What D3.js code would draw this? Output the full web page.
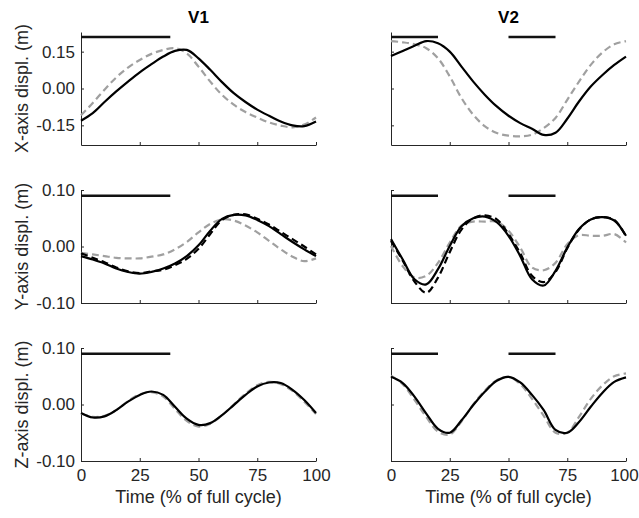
<!DOCTYPE html>
<html>
<head>
<meta charset="utf-8">
<script src="https://cdn.jsdelivr.net/npm/d3@7"></script>
<style>
body { margin: 0; background: #fff; }
svg text { font-family: "Liberation Sans", Arial, sans-serif; fill: #262626; }
</style>
</head>
<body>
<script>
var width = 639, height = 518;

// time axis, % of full cycle
var timePct = [0, 5, 10, 15, 20, 25, 30, 35, 40, 45, 50, 55, 60, 65, 70, 75, 80, 85, 90, 95, 100];
var xTicks = [0, 25, 50, 75, 100];
var colTitles = ["V1", "V2"];
var rowLabels = ["X-axis displ. (m)", "Y-axis displ. (m)", "Z-axis displ. (m)"];

// y ranges and ticks for each row
var rowDomains = [[-0.23, 0.23], [-0.1, 0.1], [-0.1, 0.1]];
var rowTicks = [[-0.15, 0, 0.15], [-0.1, 0, 0.1], [-0.1, 0, 0.1]];
var barLevels = [0.21, 0.09, 0.09];

// horizontal phase bars (start, end in %)
var barsV1 = [[0, 38]];
var barsV2 = [[0, 20], [50, 70]];

// X-axis displacement
var xV1Solid = [-0.131, -0.100, -0.055, -0.012, 0.028, 0.066, 0.099, 0.130, 0.153, 0.157, 0.123, 0.076, 0.026, -0.019, -0.055, -0.086, -0.111, -0.134, -0.150, -0.153, -0.134];
var xV1Gray = [-0.109, -0.059, -0.005, 0.045, 0.085, 0.116, 0.141, 0.157, 0.164, 0.143, 0.089, 0.028, -0.026, -0.066, -0.096, -0.118, -0.138, -0.151, -0.158, -0.147, -0.118];
var xV2Solid = [0.132, 0.153, 0.174, 0.193, 0.184, 0.150, 0.089, 0.028, -0.026, -0.073, -0.111, -0.141, -0.164, -0.189, -0.180, -0.123, -0.053, 0.008, 0.055, 0.096, 0.130];
var xV2Gray = [0.193, 0.188, 0.180, 0.164, 0.123, 0.049, -0.039, -0.107, -0.154, -0.181, -0.192, -0.195, -0.188, -0.161, -0.120, -0.046, 0.028, 0.096, 0.147, 0.180, 0.193];

// Y-axis displacement
var yV1Solid = [-0.017, -0.023, -0.030, -0.039, -0.045, -0.048, -0.045, -0.039, -0.030, -0.017, 0.002, 0.028, 0.049, 0.056, 0.055, 0.047, 0.036, 0.022, 0.008, -0.005, -0.017];
var yV1Dash = [-0.012, -0.020, -0.028, -0.037, -0.044, -0.047, -0.044, -0.041, -0.033, -0.022, -0.004, 0.022, 0.047, 0.056, 0.057, 0.049, 0.039, 0.026, 0.013, 0.000, -0.014];
var yV1Gray = [-0.011, -0.014, -0.017, -0.020, -0.021, -0.021, -0.018, -0.014, -0.005, 0.008, 0.025, 0.040, 0.048, 0.046, 0.037, 0.025, 0.010, -0.005, -0.018, -0.026, -0.021];
var yV2Solid = [0.013, -0.023, -0.058, -0.067, -0.040, 0.001, 0.036, 0.050, 0.053, 0.043, 0.019, -0.017, -0.058, -0.069, -0.043, -0.002, 0.031, 0.048, 0.052, 0.046, 0.019];
var yV2Dash = [0.010, -0.025, -0.062, -0.082, -0.055, -0.010, 0.030, 0.050, 0.055, 0.048, 0.022, -0.012, -0.052, -0.063, -0.045, -0.003, 0.030, 0.048, 0.052, 0.047, 0.018];
var yV2Gray = [0.001, -0.035, -0.055, -0.052, -0.029, 0.007, 0.037, 0.044, 0.044, 0.044, 0.028, -0.002, -0.037, -0.042, -0.029, 0.004, 0.020, 0.019, 0.019, 0.022, 0.007];

// Z-axis displacement
var zV1Solid = [-0.015, -0.023, -0.021, -0.010, 0.005, 0.017, 0.023, 0.017, -0.004, -0.025, -0.036, -0.033, -0.019, -0.001, 0.017, 0.032, 0.039, 0.038, 0.026, 0.008, -0.015];
var zV1Gray = [-0.016, -0.022, -0.020, -0.010, 0.006, 0.018, 0.022, 0.014, -0.008, -0.029, -0.039, -0.034, -0.019, 0.000, 0.019, 0.034, 0.040, 0.036, 0.024, 0.005, -0.017];
var zV2Solid = [0.049, 0.038, 0.014, -0.016, -0.043, -0.050, -0.028, -0.001, 0.023, 0.042, 0.049, 0.039, 0.017, -0.010, -0.045, -0.050, -0.031, -0.004, 0.021, 0.040, 0.048];
var zV2Gray = [0.051, 0.036, 0.008, -0.022, -0.048, -0.053, -0.030, 0.000, 0.025, 0.043, 0.049, 0.036, 0.010, -0.020, -0.050, -0.050, -0.022, 0.010, 0.034, 0.050, 0.055];

var panels = [
    { row: 0, col: 0, solid: xV1Solid, dash: null, gray: xV1Gray, bars: barsV1 },
    { row: 0, col: 1, solid: xV2Solid, dash: null, gray: xV2Gray, bars: barsV2 },
    { row: 1, col: 0, solid: yV1Solid, dash: yV1Dash, gray: yV1Gray, bars: barsV1 },
    { row: 1, col: 1, solid: yV2Solid, dash: yV2Dash, gray: yV2Gray, bars: barsV2 },
    { row: 2, col: 0, solid: zV1Solid, dash: null, gray: zV1Gray, bars: barsV1 },
    { row: 2, col: 1, solid: zV2Solid, dash: null, gray: zV2Gray, bars: barsV2 }
];

var colLeft = [81, 391], panelW = 235;
var rowTop = [32, 190, 348], panelH = 113;

var fmt = d3.formatLocale({ decimal: ".", thousands: ",", grouping: [3], currency: ["", ""], minus: "-" }).format(".2f");

var svg = d3.select("body")
    .append("svg")
    .attr("width", width)
    .attr("height", height);

panels.forEach(function (p) {
    var g = svg.append("g")
        .attr("transform", "translate(" + colLeft[p.col] + "," + rowTop[p.row] + ")");

    var x = d3.scaleLinear().domain([0, 100]).range([0, panelW]);
    var y = d3.scaleLinear().domain(rowDomains[p.row]).range([panelH, 0]);

    var xAxis = d3.axisBottom(x).tickValues(xTicks).tickSize(-3).tickSizeOuter(0).tickPadding(8);
    if (p.row < 2) xAxis.tickFormat("");
    var yAxis = d3.axisLeft(y).tickValues(rowTicks[p.row]).tickSize(-3).tickSizeOuter(0).tickPadding(6)
        .tickFormat(p.col == 0 ? fmt : "");

    var gx = g.append("g").attr("transform", "translate(0," + panelH + ")").call(xAxis);
    var gy = g.append("g").call(yAxis);
    [gx, gy].forEach(function (a) {
        a.attr("font-size", 17).attr("font-family", null);
        a.selectAll("path, line").attr("stroke", "#262626");
        a.selectAll("text").attr("fill", "#262626");
    });
    // keep the last "100" inside the window on the right panel
    if (p.col == 1) {
        gx.selectAll(".tick text").filter(function (d) { return d == 100; }).attr("dx", -2);
    }

    var line = d3.line()
        .x(function (d, i) { return x(timePct[i]); })
        .y(function (d) { return y(d); })
        .curve(d3.curveCatmullRom.alpha(0.5));

    g.append("path")
        .attr("d", line(p.gray))
        .attr("fill", "none")
        .attr("stroke", "#a0a0a0")
        .attr("stroke-width", 2.2)
        .attr("stroke-dasharray", "7,4");

    g.append("path")
        .attr("d", line(p.solid))
        .attr("fill", "none")
        .attr("stroke", "#000")
        .attr("stroke-width", 2.2);

    if (p.dash) {
        g.append("path")
            .attr("d", line(p.dash))
            .attr("fill", "none")
            .attr("stroke", "#000")
            .attr("stroke-width", 2.2)
            .attr("stroke-dasharray", "7,4");
    }

    // phase bars
    g.selectAll(".bar")
        .data(p.bars)
        .enter()
        .append("line")
        .attr("x1", function (d) { return x(d[0]); })
        .attr("x2", function (d) { return x(d[1]); })
        .attr("y1", y(barLevels[p.row]))
        .attr("y2", y(barLevels[p.row]))
        .attr("stroke", "#111")
        .attr("stroke-width", 2.5);

    if (p.row == 0) {
        g.append("text")
            .attr("x", panelW / 2)
            .attr("y", -9)
            .attr("text-anchor", "middle")
            .attr("font-size", 17)
            .attr("font-weight", "bold")
            .style("fill", "#000")
            .text(colTitles[p.col]);
    }
    if (p.col == 0) {
        g.append("text")
            .attr("transform", "translate(" + (28 - colLeft[0]) + "," + (panelH / 2) + ") rotate(-90)")
            .attr("text-anchor", "middle")
            .attr("font-size", 18)
            .text(rowLabels[p.row]);
    }
    if (p.row == 2) {
        g.append("text")
            .attr("x", panelW / 2)
            .attr("y", panelH + 42)
            .attr("text-anchor", "middle")
            .attr("font-size", 18)
            .text("Time (% of full cycle)");
    }
});
</script>
</body>
</html>
